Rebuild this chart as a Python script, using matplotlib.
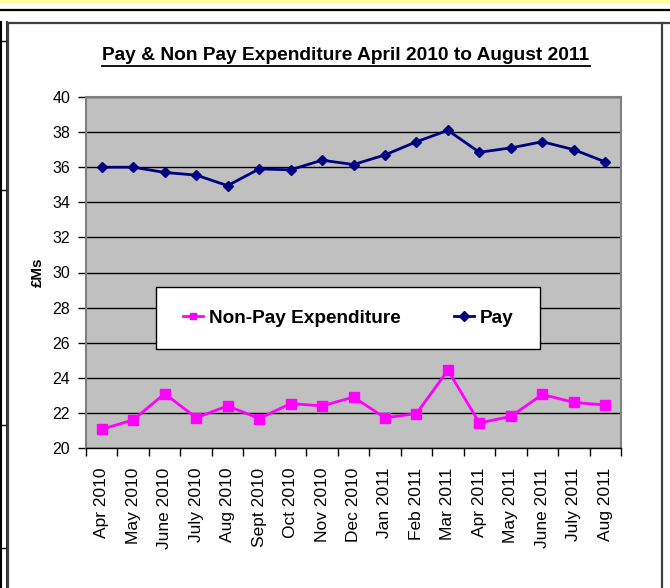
import numpy as np
import matplotlib
matplotlib.use("Agg")
import matplotlib.pyplot as plt
from matplotlib.lines import Line2D
from matplotlib.patches import Rectangle

plt.rcParams['font.family'] = ['Liberation Sans', 'DejaVu Sans']

months = ['Apr 2010', 'May 2010', 'June 2010', 'July 2010', 'Aug 2010',
          'Sept 2010', 'Oct 2010', 'Nov 2010', 'Dec 2010', 'Jan 2011',
          'Feb 2011', 'Mar 2011', 'Apr 2011', 'May 2011', 'June 2011',
          'July 2011', 'Aug 2011']
pay = [36.0, 36.0, 35.7, 35.55, 34.95, 35.9, 35.85, 36.4, 36.15, 36.7,
       37.45, 38.1, 36.85, 37.1, 37.45, 37.0, 36.3]
non_pay = [21.07, 21.6, 23.1, 21.72, 22.4, 21.68, 22.53, 22.4, 22.9, 21.72,
           21.96, 24.43, 21.43, 21.8, 23.05, 22.6, 22.45]

W, H = 670, 588
fig = plt.figure(figsize=(W / 100, H / 100), dpi=100)
fig.patch.set_facecolor('white')


def px(x0, y0, x1, y1, **kw):
    # line in pixel coords, y measured from the top
    fig.add_artist(Line2D([x0 / W, x1 / W], [1 - y0 / H, 1 - y1 / H],
                          transform=fig.transFigure, **kw))


# surrounding page bits
fig.add_artist(Rectangle((0, 1 - 3 / H), 1, 3 / H, transform=fig.transFigure,
                         facecolor='#ffff99', edgecolor='none'))
px(0, 10, W, 10, color='black', lw=1.6)
px(1, 22, 1, H, color='black', lw=1.5)
px(6.5, 22, 6.5, H, color='black', lw=1.2)
for yy in [41, 190, 425, 548]:
    px(0, yy, 6, yy, color='black', lw=1)
# chart frame
px(7.5, 23, W, 23, color='#404040', lw=1.6)
px(7.5, 23, 7.5, H, color='#404040', lw=1.6)
px(662, 23, 662, H, color='#404040', lw=1.6)

ax = fig.add_axes([86 / W, 1 - 448 / H, 535 / W, 351 / H])
ax.set_facecolor('#c0c0c0')
x = np.arange(len(months))

ax.plot(x, pay, color='#000080', lw=2, marker='D', markersize=5.5,
        label='Pay', zorder=3)
ax.plot(x, non_pay, color='#ff00ff', lw=2, marker='s', markersize=7,
        label='Non-Pay Expenditure', zorder=3)

ax.set_xlim(-0.5, len(months) - 0.5)
ax.set_ylim(20, 40)
ax.set_yticks(np.arange(20, 41, 2))
ax.yaxis.grid(True, color='black', lw=1)
ax.set_axisbelow(True)
ax.tick_params(axis='y', direction='out', length=6, width=1, pad=5.5,
               labelsize=11.5)

ax.set_xticks(x)
ax.set_xticklabels(months, rotation=90, fontsize=12.5)
ax.set_xticks(np.arange(-0.5, len(months)), minor=True)
ax.tick_params(axis='x', which='major', length=0, pad=14)
ax.tick_params(axis='x', which='minor', direction='out', length=6, width=1)

for s in ['top', 'right', 'left']:
    ax.spines[s].set_color('#808080')
    ax.spines[s].set_linewidth(1.5)
ax.spines['bottom'].set_color('black')
ax.spines['bottom'].set_linewidth(1)

ax.set_ylabel('£Ms', fontsize=11, fontweight='bold', labelpad=5)

# legend box
fig.add_artist(Rectangle((156 / W, 1 - 349 / H), 384 / W, 62 / H,
                         transform=fig.transFigure, facecolor='white',
                         edgecolor='black', lw=1, zorder=5))
handles, labels = ax.get_legend_handles_labels()
leg = fig.legend(handles[::-1], labels[::-1], loc='center',
                 bbox_to_anchor=(348 / W, 1 - 318 / H), ncol=2,
                 frameon=False, prop={'weight': 'bold', 'size': 13.7},
                 handlelength=1.05, handletextpad=0.3, columnspacing=2.8)
leg.set_zorder(6)
for h in leg.legend_handles:
    h.set_markersize(5)

# underlined title
title = fig.text(346 / W, 1 - 56 / H,
                 'Pay & Non Pay Expenditure April 2010 to August 2011',
                 ha='center', va='center', fontsize=13.8, fontweight='bold')
fig.canvas.draw()
bb = title.get_window_extent()
px(bb.x0, H - bb.y0 + 1, bb.x1, H - bb.y0 + 1, color='black', lw=1.3)

fig.savefig('out.png', dpi=100)
